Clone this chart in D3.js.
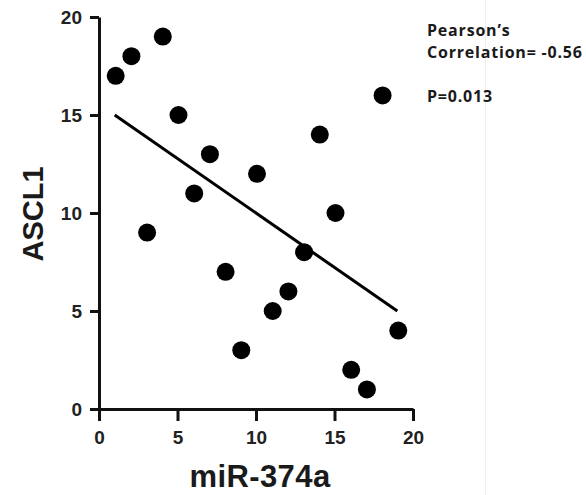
<!DOCTYPE html>
<html>
<head>
<meta charset="utf-8">
<script src="https://cdn.jsdelivr.net/npm/d3@7"></script>
<style>
  body { margin: 0; background: #fff; }
  svg { display: block; }
</style>
</head>
<body>
<svg width="586" height="495"></svg>
<script>
// miR-374a vs ASCL1 values
var mir374a = [1, 2, 3, 4, 5, 6, 7, 8, 9, 10, 11, 12, 13, 14, 15, 16, 17, 18, 19];
var ascl1   = [17, 18, 9, 19, 15, 11, 13, 7, 3, 12, 5, 6, 8, 14, 10, 2, 1, 16, 4];
// regression line end points
var fitX = [1, 19];
var fitY = [15, 5];
var tickValues = [0, 5, 10, 15, 20];
var notes = ["Pearson\u2019s", "Correlation= -0.56", "", "P=0.013"];

const svg = d3.select("svg");

var x = d3.scaleLinear().domain([0, 20]).range([99, 413]);
var y = d3.scaleLinear().domain([0, 20]).range([409, 17]);

// faint scan edge on the right
svg.append("line")
    .attr("x1", 485.5).attr("x2", 485.5)
    .attr("y1", 0).attr("y2", 495)
    .attr("stroke", "#efefef")
    .attr("stroke-width", 1);

var xAxis = d3.axisBottom(x).tickValues(tickValues).tickSize(12).tickSizeOuter(0).tickPadding(10);
var yAxis = d3.axisLeft(y).tickValues(tickValues).tickSize(9).tickSizeOuter(0).tickPadding(8);

function styleAxis(g) {
    g.select(".domain").attr("stroke", "#111").attr("stroke-width", 3);
    g.selectAll(".tick line").attr("stroke", "#111").attr("stroke-width", 3);
    g.selectAll(".tick text")
        .attr("fill", "#222")
        .style("font-family", "Liberation Sans, Arial, sans-serif")
        .style("font-weight", "bold")
        .style("font-size", "19px");
}

svg.append("g")
    .attr("transform", "translate(0," + y(0) + ")")
    .call(xAxis)
    .call(styleAxis);

svg.append("g")
    .attr("transform", "translate(" + x(0) + ",0)")
    .call(yAxis)
    .call(styleAxis);

// regression line
svg.append("line")
    .attr("x1", x(fitX[0])).attr("y1", y(fitY[0]))
    .attr("x2", x(fitX[1])).attr("y2", y(fitY[1]))
    .attr("stroke", "#000")
    .attr("stroke-width", 3);

svg.append("g")
  .selectAll("circle")
  .data(mir374a)
  .join("circle")
    .attr("cx", d => x(d) + 1)
    .attr("cy", (d, i) => y(ascl1[i]))
    .attr("r", 9)
    .attr("fill", "#000");

// axis titles
svg.append("text")
    .attr("x", 260).attr("y", 487)
    .attr("text-anchor", "middle")
    .style("font-family", "Liberation Sans, Arial, sans-serif")
    .style("font-weight", "bold")
    .style("font-size", "31px")
    .style("letter-spacing", "0.4px")
    .attr("fill", "#1a1a1a")
    .text("miR-374a");

svg.append("text")
    .attr("transform", "translate(43,214) rotate(-90)")
    .attr("text-anchor", "middle")
    .style("font-family", "Liberation Sans, Arial, sans-serif")
    .style("font-weight", "bold")
    .style("font-size", "29px")
    .attr("fill", "#1a1a1a")
    .text("ASCL1");

// correlation notes
svg.append("g")
  .selectAll("text")
  .data(notes)
  .join("text")
    .attr("x", 427)
    .attr("y", (d, i) => 35.5 + i * 22)
    .style("font-family", "Open Sans, sans-serif")
    .style("font-weight", "700")
    .style("font-size", "16px")
    .style("letter-spacing", "0.8px")
    .attr("fill", "#1a1a1a")
    .text(d => d);
</script>
</body>
</html>
